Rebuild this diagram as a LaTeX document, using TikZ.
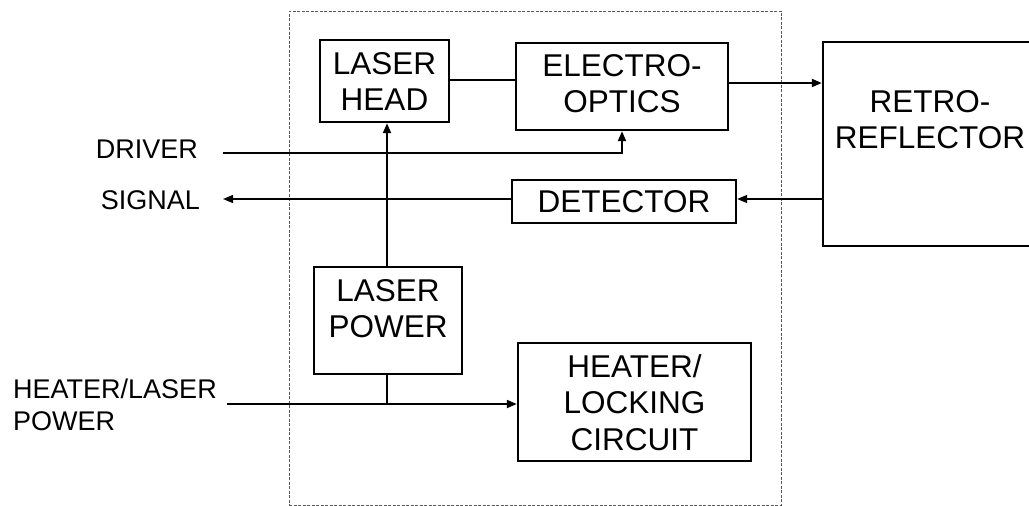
\documentclass[tikz,border=0pt]{standalone}
\usepackage{fontspec}
\setmainfont{Liberation Sans}
\usetikzlibrary{arrows.meta}
\begin{document}
\begin{tikzpicture}[x=1pt,y=-1pt,
  boxnode/.style={draw=black,line width=2.4pt,rectangle,inner sep=0pt},
  boxtext/.style={inner sep=0pt,align=center,font=\fontsize{31.5}{36}\selectfont},
  lbl/.style={inner sep=0pt,font=\fontsize{27}{32}\selectfont},
  encl/.style={draw=black!65,line width=0.9pt,dash pattern=on 3pt off 1.5pt,rectangle,inner sep=0pt},
  conn/.style={draw=black,line width=2pt},
  thinconn/.style={draw=black,line width=1.4pt},
  arr/.style={-{Triangle[length=10pt,width=8pt]}}]
\useasboundingbox (0,0) rectangle (1029,506);
% enclosure
\node[encl,minimum width=492,minimum height=494] (enc) at (535,258) {};
% boxes
\node[boxnode,minimum width=129,minimum height=82] (lh) at (384.5,81) {};
\node[boxnode,minimum width=212,minimum height=87] (eo) at (622,86.5) {};
\node[boxnode,minimum width=224,minimum height=43] (det) at (624,201.5) {};
\node[boxnode,minimum width=148,minimum height=107] (lp) at (388,320.5) {};
\node[boxnode,minimum width=233,minimum height=118] (hl) at (634.5,402) {};
\node[boxnode,minimum width=214,minimum height=204] (rr) at (930,144) {};
% box texts
\node[boxtext] (lht) at (384.5,81.5) {LASER\\HEAD};
\node[boxtext] (eot) at (622,83.5) {ELECTRO-\\OPTICS};
\node[boxtext] (dett) at (624,202) {DETECTOR};
\node[boxtext] (lpt) at (388,308.5) {LASER\\POWER};
\node[boxtext] (rrt) at (930,119.5) {RETRO-\\REFLECTOR};
\node[boxtext,font=\fontsize{31.5}{36.5}\selectfont] (hlt) at (634.5,402.5) {HEATER/\\LOCKING\\CIRCUIT};
% outside labels
\node[lbl,anchor=east] (drv) at (198,149.5) {DRIVER};
\node[lbl,anchor=east] (sig) at (200,200.5) {SIGNAL};
\node[lbl,anchor=west,align=left] (hlp) at (13,404.5) {HEATER/LASER\\POWER};
% helper coordinates
\coordinate (drvin) at (223,153);
\coordinate (sigout) at (223,199);
\coordinate (hin) at (227,404);
\coordinate (jx) at (387,404);
\coordinate (ya) at (0,80);
\coordinate (yb) at (0,83);
\coordinate (yd) at (0,199);
% connectors
\draw[conn] (lh.east |- ya) -- (eo.west |- ya);
\draw[conn,arr] (eo.east |- yb) -- (rr.west |- yb);
\draw[conn,arr] (drvin) -- (drvin -| eo.south) -- (eo.south);
\draw[thinconn,arr] (rr.west |- yd) -- (det.east |- yd);
\draw[thinconn,arr] (det.west |- yd) -- (sigout);
\draw[conn,arr] (lp.north -| jx) -- (lh.south -| jx);
\draw[conn] (lp.south -| jx) -- (jx);
\draw[conn,arr] (hin) -- (hin -| hl.west);
\end{tikzpicture}
\end{document}
